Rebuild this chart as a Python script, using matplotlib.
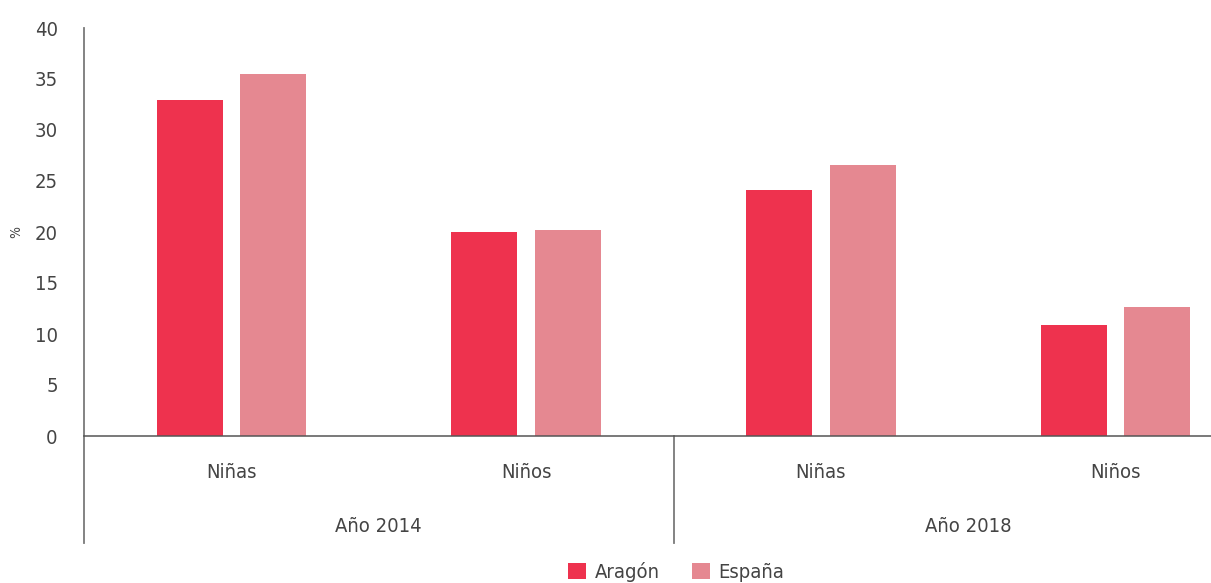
import matplotlib
matplotlib.use("Agg")
import matplotlib.pyplot as plt
import numpy as np

plt.rcParams['font.family'] = ['DejaVu Sans']
plt.rcParams['font.stretch'] = 'condensed'

years = ["Año 2014", "Año 2018"]
groups = ["Niñas", "Niños", "Niñas", "Niños"]
aragon = [32.9, 20.0, 24.1, 10.9]
espana = [35.5, 20.2, 26.6, 12.6]
series_names = ["Aragón", "España"]
colors = ["#EE324E", "#E58891"]
yticks = [0, 5, 10, 15, 20, 25, 30, 35, 40]

text_color = "#444444"
line_color = "#7a7a7a"

W, H = 1211, 583
x0, x1 = 84, 1263  # plot area runs slightly past the right edge
fig = plt.figure(figsize=(W / 100, H / 100), dpi=100)
ax = fig.add_axes([x0 / W, (H - 436) / H, (x1 - x0) / W, (436 - 28) / H])

x = np.arange(len(groups))
w = 0.224
off = 0.1415
ax.bar(x - off, aragon, width=w, color=colors[0], label=series_names[0], zorder=2)
ax.bar(x + off, espana, width=w, color=colors[1], label=series_names[1], zorder=2)

ax.set_xlim(-0.5, len(groups) - 0.5)
ax.set_ylim(0, 40)
ax.set_yticks(yticks)
ax.set_yticklabels([str(t) for t in yticks], fontsize=14.5, color=text_color)
ax.tick_params(axis='y', length=0, pad=19)
ax.set_xticks([])

for s in ["top", "right"]:
    ax.spines[s].set_visible(False)
ax.spines["left"].set_color(line_color)
ax.spines["left"].set_linewidth(1.3)
ax.spines["bottom"].set_color("#555555")
ax.spines["bottom"].set_linewidth(1.1)

ax.set_ylabel("%", fontsize=10, color=text_color)
ax.yaxis.set_label_coords(-(84 - 23) / (x1 - x0), 0.5)

# category and year labels below the baseline
trans = ax.get_xaxis_transform()
for xi, g in zip(x, groups):
    ax.text(xi, -(473 - 436) / 408, g, transform=trans, ha="center", va="center",
            fontsize=14.5, color=text_color)
for i, yr in enumerate(years):
    ax.text(2 * i + 0.5, -(527 - 436) / 408, yr, transform=trans, ha="center",
            va="center", fontsize=14.5, color=text_color)

# hierarchical axis separators
bottom_ext = -(543 - 436) / 408
ax.plot([-0.5, -0.5], [0, bottom_ext], transform=trans, color=line_color,
        lw=1.3, clip_on=False)
ax.plot([1.5, 1.5], [0, bottom_ext], transform=trans, color=line_color,
        lw=1.3, clip_on=False)

fig.legend(loc="center", bbox_to_anchor=(676 / W, (H - 572) / H),
           ncol=2, frameon=False, fontsize=14.5, handlelength=0.9, handleheight=0.9,
           handletextpad=0.4, columnspacing=1.6, labelcolor=text_color)

fig.savefig("out.png", dpi=100)
